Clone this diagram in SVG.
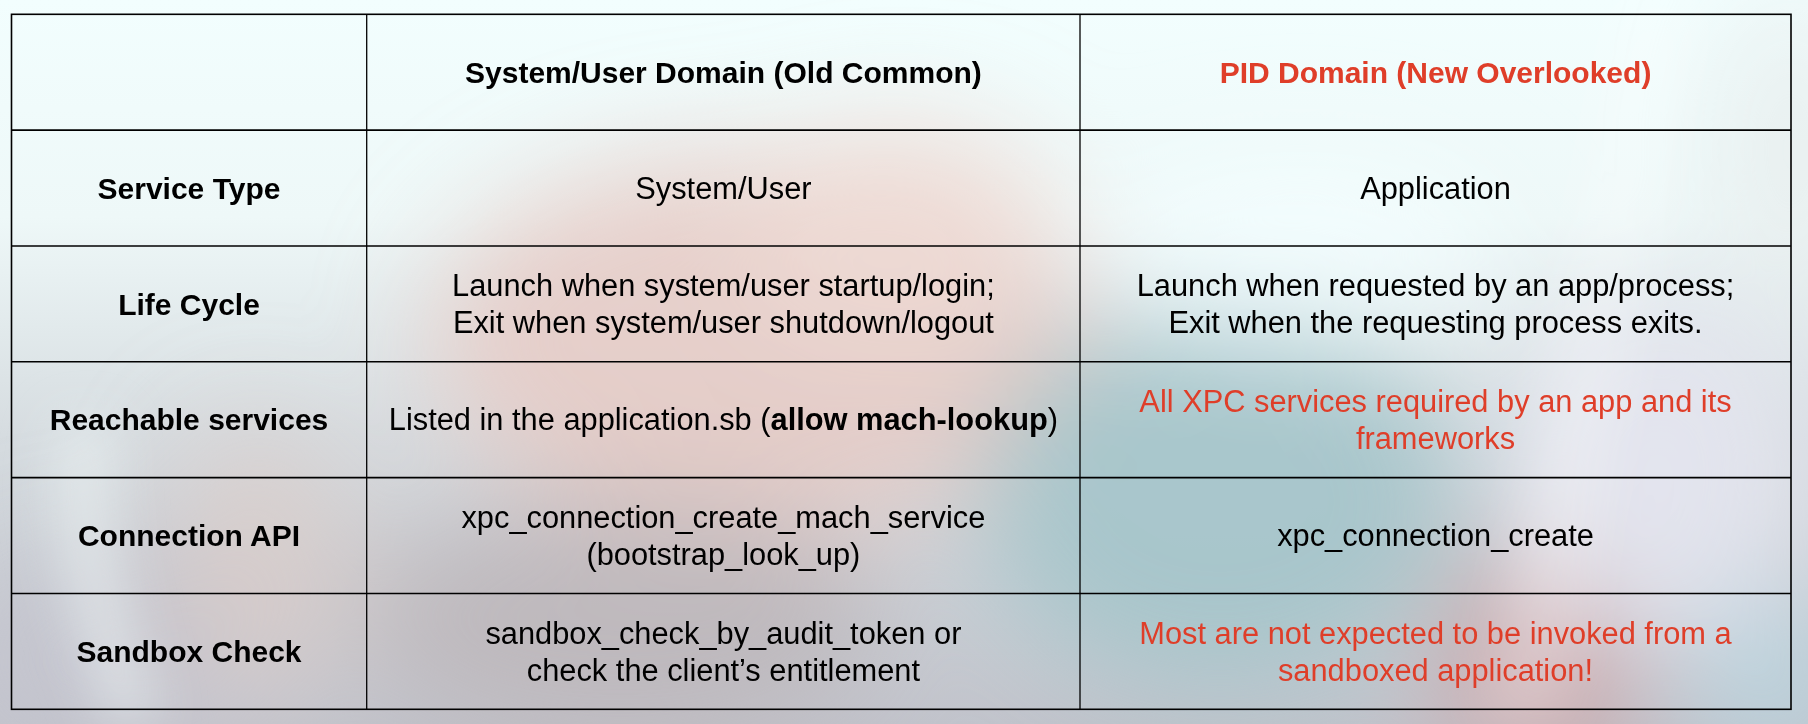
<svg xmlns="http://www.w3.org/2000/svg" width="1808" height="724" viewBox="0 0 1808 724">
  <defs>
    <linearGradient id="base" x1="0" y1="0" x2="0" y2="1">
      <stop offset="0" stop-color="#F2FEFE"/>
      <stop offset="0.3" stop-color="#EEF8F8"/>
      <stop offset="0.6" stop-color="#D6DCE0"/>
      <stop offset="1" stop-color="#C2C4CC"/>
    </linearGradient>
    <filter id="blur" x="-50%" y="-50%" width="200%" height="200%">
      <feGaussianBlur stdDeviation="55"/>
    </filter>
    <filter id="blur2" x="-50%" y="-50%" width="200%" height="200%">
      <feGaussianBlur stdDeviation="25"/>
    </filter>
    <style>
      .t { font-family: "Liberation Sans", Arial, Helvetica, sans-serif; font-size: 30.8px; fill: #000; text-anchor: middle; }
      .b { font-weight: bold; font-size: 30px; }
      .red { fill: #DF3E29; }
      .hl { stroke: #000; stroke-width: 1.6; fill: none; }
      .vl { stroke: #000; stroke-width: 1.3; fill: none; }
    </style>
  </defs>

  <!-- background -->
  <g id="background">
    <rect x="0" y="0" width="1808" height="724" fill="url(#base)"/>
    <g filter="url(#blur)">
      <ellipse cx="760" cy="340" rx="330" ry="190" fill="#E6CAC4" opacity="0.85"/>
      <ellipse cx="900" cy="230" rx="160" ry="110" fill="#F0DCD6" opacity="0.8"/>
      <ellipse cx="620" cy="620" rx="260" ry="120" fill="#BCB4B8" opacity="0.8"/>
      <ellipse cx="1220" cy="500" rx="240" ry="190" fill="#A4C4CA" opacity="0.9"/>
      <ellipse cx="1540" cy="660" rx="100" ry="120" fill="#CCA6A8" opacity="0.9"/>
      <ellipse cx="1660" cy="470" rx="150" ry="170" fill="#E4E6F0" opacity="0.9"/>
      <ellipse cx="1770" cy="680" rx="80" ry="80" fill="#B8D4DE" opacity="0.9"/>
      <ellipse cx="120" cy="660" rx="170" ry="110" fill="#C4C4CE" opacity="0.9"/>
      <ellipse cx="260" cy="560" rx="90" ry="140" fill="#DCCCC8" opacity="0.7"/>
      <ellipse cx="1300" cy="250" rx="200" ry="90" fill="#F4FEFF" opacity="0.8"/>
      <ellipse cx="1790" cy="150" rx="60" ry="160" fill="#E4E8E8" opacity="0.7"/>
    </g>
    <g filter="url(#blur2)">
      <path d="M60 420 C 40 520 70 620 110 724 L 160 724 C 125 620 105 520 115 420 Z" fill="#EEF6F6" opacity="0.55"/>
      <path d="M1620 0 L 1700 0 L 1560 724 L 1480 724 Z" fill="#FFFFFF" opacity="0.25"/>
    </g>
  </g>

  <!-- table grid -->
  <g id="grid">
    <rect class="hl" x="11.5" y="14.3" width="1779.5" height="695"/>
    <line class="hl" x1="11.5" y1="130.1" x2="1791" y2="130.1"/>
    <line class="hl" x1="11.5" y1="246" x2="1791" y2="246"/>
    <line class="hl" x1="11.5" y1="361.8" x2="1791" y2="361.8"/>
    <line class="hl" x1="11.5" y1="477.6" x2="1791" y2="477.6"/>
    <line class="hl" x1="11.5" y1="593.5" x2="1791" y2="593.5"/>
    <line class="vl" x1="366.7" y1="14.3" x2="366.7" y2="709.3"/>
    <line class="vl" x1="1080" y1="14.3" x2="1080" y2="709.3"/>
  </g>

  <!-- header row -->
  <g id="header">
    <text class="t b" x="723.4" y="83">System/User Domain (Old Common)</text>
    <text class="t b red" x="1435.5" y="83">PID Domain (New Overlooked)</text>
  </g>

  <g id="row-service-type">
    <text class="t b" x="189" y="199">Service Type</text>
    <text class="t" x="723.4" y="199">System/User</text>
    <text class="t" x="1435.5" y="199">Application</text>
  </g>

  <g id="row-life-cycle">
    <text class="t b" x="189" y="314.6">Life Cycle</text>
    <text class="t" x="723.4" y="296.1">Launch when system/user startup/login;</text>
    <text class="t" x="723.4" y="333.1">Exit when system/user shutdown/logout</text>
    <text class="t" x="1435.5" y="296.1">Launch when requested by an app/process;</text>
    <text class="t" x="1435.5" y="333.1">Exit when the requesting process exits.</text>
  </g>

  <g id="row-reachable">
    <text class="t b" x="189" y="430.4">Reachable services</text>
    <text class="t" x="723.4" y="430.4">Listed in the application.sb (<tspan font-weight="bold">allow mach-lookup</tspan>)</text>
    <text class="t red" x="1435.5" y="412">All XPC services required by an app and its</text>
    <text class="t red" x="1435.5" y="449">frameworks</text>
  </g>

  <g id="row-connection">
    <text class="t b" x="189" y="546.3">Connection API</text>
    <text class="t" x="723.4" y="527.8">xpc_connection_create_mach_service</text>
    <text class="t" x="723.4" y="564.8">(bootstrap_look_up)</text>
    <text class="t" x="1435.5" y="546.3">xpc_connection_create</text>
  </g>

  <g id="row-sandbox">
    <text class="t b" x="189" y="662.1">Sandbox Check</text>
    <text class="t" x="723.4" y="643.6">sandbox_check_by_audit_token or</text>
    <text class="t" x="723.4" y="680.6">check the client’s entitlement</text>
    <text class="t red" x="1435.5" y="643.6">Most are not expected to be invoked from a</text>
    <text class="t red" x="1435.5" y="680.6">sandboxed application!</text>
  </g>
</svg>
